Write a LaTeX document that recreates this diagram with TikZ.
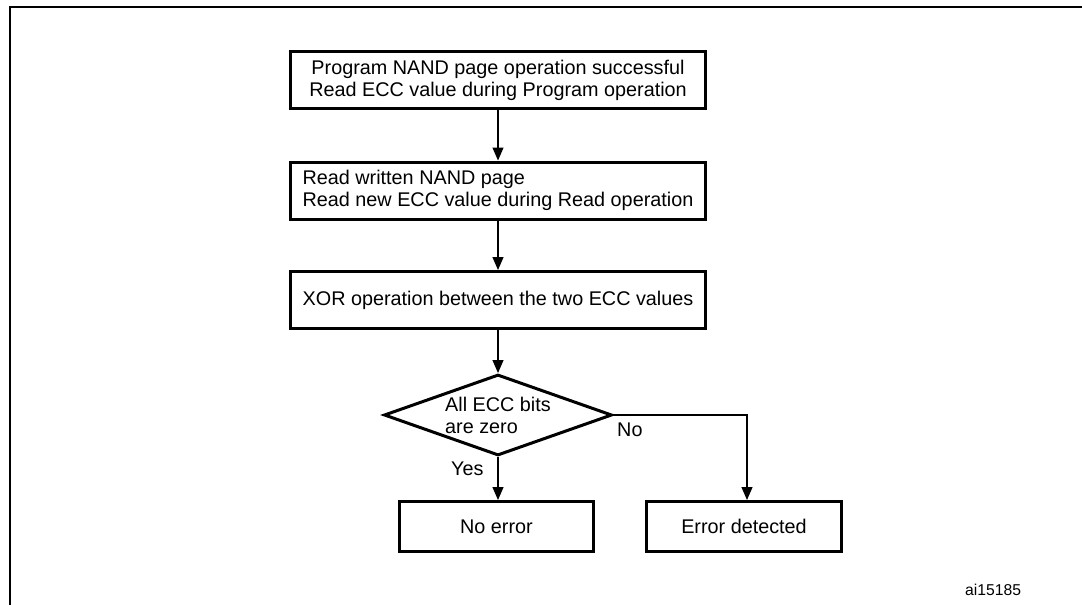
\documentclass[tikz,border=0pt]{standalone}
\usepackage{fontspec}
\setmainfont{Liberation Sans}
\usetikzlibrary{shapes.geometric,arrows.meta}
\begin{document}
\begin{tikzpicture}[x=1pt,y=-1pt,
  every node/.style={font=\fontsize{19.8pt}{22pt}\selectfont},
  stepbox/.style={draw, line width=3pt, minimum width=415pt, minimum height=57pt,
    inner xsep=10pt, inner ysep=0pt},
  endbox/.style={draw, line width=3pt, minimum height=50pt, inner sep=0pt},
  decide/.style={draw, diamond, aspect=2.8, line width=3pt, minimum width=228pt, minimum height=81pt,
    inner sep=0pt, align=left},
  conn/.style={line width=1.2pt, -{Triangle[length=13pt,width=11pt]}},
  lbl/.style={inner sep=0pt}
]
\useasboundingbox (0,0) rectangle (1082,605);
\clip (0,0) rectangle (1082,605);
% frame
\draw[line width=2pt] (10,620) -- (10,7) -- (1100,7);

\node[stepbox, align=center] (b1) at (498,80)
  {Program NAND page operation successful\\Read ECC value during Program operation};
\node[stepbox, align=left] (b2) at (498,190.5)
  {Read written NAND page\\Read new ECC value during Read operation};
\node[stepbox, align=center] (b3) at (498,300)
  {XOR operation between the two ECC values};
\node[decide] (d) at (498,415) {All ECC bits\\are zero};
\node[endbox, minimum width=194pt] (n) at (496.5,526.5) {No error};
\node[endbox, minimum width=195pt] (e) at (744,526.5) {Error detected};

\draw[conn] (b1) -- (b2);
\draw[conn] (b2) -- (b3);
\draw[conn] (b3) -- (d);
\draw[conn] (d.south) -- (n.north -| d.south);
\draw[conn] (d.east) -| ([xshift=3pt]e.north);

\node[lbl, anchor=north west] (yes) at (451,462) {Yes};
\node[lbl, anchor=north west] (no) at (617,423) {No};
\node[lbl, anchor=base west, font=\fontsize{15.7pt}{18pt}\selectfont] (id) at (965,595) {ai15185};
\end{tikzpicture}
\end{document}
